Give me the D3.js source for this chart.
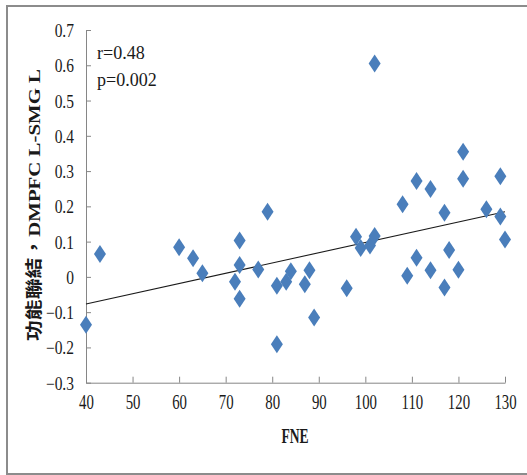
<!DOCTYPE html>
<html>
<head>
<meta charset="utf-8">
<script src="https://cdn.jsdelivr.net/npm/d3@7"></script>
<style>
  html, body { margin: 0; padding: 0; background: #fff; }
  svg { display: block; }
</style>
</head>
<body>
<svg id="chart" width="527" height="475"></svg>
<script>
// FNE score of each participant
const fne = [40, 43, 60, 63, 65, 72, 73, 73, 73, 77,
             79, 81, 81, 83, 84, 87, 88, 89, 96, 98,
             99, 101, 102, 102, 108, 109, 111, 111, 114, 114,
             117, 117, 118, 120, 121, 121, 126, 129, 129, 130];
// DMPFC L – SMG L functional connectivity of each participant
const connectivity = [-0.136, 0.065, 0.084, 0.053, 0.010, -0.014, 0.103, 0.034, -0.062, 0.021,
                      0.185, -0.025, -0.191, -0.014, 0.016, -0.021, 0.019, -0.115, -0.032, 0.114,
                      0.082, 0.089, 0.116, 0.605, 0.206, 0.003, 0.054, 0.272, 0.249, 0.019,
                      0.182, -0.030, 0.076, 0.020, 0.355, 0.278, 0.192, 0.285, 0.171, 0.106];
const xTicks = [40, 50, 60, 70, 80, 90, 100, 110, 120, 130];
const yTicks = [-0.3, -0.2, -0.1, 0, 0.1, 0.2, 0.3, 0.4, 0.5, 0.6, 0.7];
// linear fit: connectivity = slope * FNE + intercept
const fitSlope = 0.00291;
const fitIntercept = -0.1934;
const statLines = ["r=0.48", "p=0.002"];

const svg = d3.select("#chart");
const axisColor = "#868686";
const tickFont = "'Liberation Serif', 'Times New Roman', serif";

// outer frame
svg.append("rect")
  .attr("x", 7).attr("y", 6)
  .attr("width", 540).attr("height", 468)
  .attr("fill", "none")
  .attr("stroke", "#8c8c8c")
  .attr("stroke-width", 2);

const plot = { left: 86, right: 505, top: 30, bottom: 382.7 };
const x = d3.scaleLinear().domain([40, 130]).range([plot.left, plot.right]);
const y = d3.scaleLinear().domain([-0.3, 0.7]).range([plot.bottom, plot.top]);

// y axis
const yAxis = svg.append("g")
  .attr("transform", `translate(${plot.left},0)`)
  .call(d3.axisLeft(y).tickValues(yTicks)
    .tickFormat(d => d3.format("")(+d.toFixed(1)))
    .tickSizeInner(-5).tickSizeOuter(0).tickPadding(14));
yAxis.select(".domain").attr("stroke", axisColor);
yAxis.selectAll(".tick line").attr("stroke", axisColor);
yAxis.selectAll(".tick text")
  .attr("fill", "#1a1a1a")
  .attr("font-family", tickFont)
  .attr("font-size", 18)
  .attr("dy", "0.36em")
  .attr("transform", "scale(0.86,1)");

// x axis
const xAxis = svg.append("g")
  .attr("transform", `translate(0,${plot.bottom})`)
  .call(d3.axisBottom(x).tickValues(xTicks)
    .tickSizeInner(-6).tickSizeOuter(0).tickPadding(12));
xAxis.select(".domain").attr("stroke", axisColor);
xAxis.selectAll(".tick line").attr("stroke", axisColor);
xAxis.selectAll(".tick text")
  .attr("fill", "#1a1a1a")
  .attr("font-family", tickFont)
  .attr("font-size", 20)
  .attr("transform", "scale(0.74,1)");

// trend line
svg.append("line")
  .attr("x1", x(40)).attr("y1", y(fitSlope * 40 + fitIntercept))
  .attr("x2", x(130)).attr("y2", y(fitSlope * 130 + fitIntercept))
  .attr("stroke", "#1a1a1a")
  .attr("stroke-width", 1.1);

// diamond markers
const diamond = "M0,-9L6,0L0,9L-6,0Z";
svg.append("g").selectAll("path")
  .data(fne.map((v, i) => [v, connectivity[i]]))
  .join("path")
  .attr("d", diamond)
  .attr("transform", d => `translate(${x(d[0])},${y(d[1])})`)
  .attr("fill", "#4a7ebb");

// correlation statistics
svg.append("g").selectAll("text")
  .data(statLines)
  .join("text")
  .attr("x", 97)
  .attr("y", (d, i) => 59 + i * 27.5)
  .attr("font-family", tickFont)
  .attr("font-size", 19)
  .attr("fill", "#1a1a1a")
  .attr("transform", "translate(97,0) scale(0.95,1) translate(-97,0)")
  .text(d => d);

// axis titles
svg.append("text")
  .attr("x", 295).attr("y", 443)
  .attr("text-anchor", "middle")
  .attr("font-family", tickFont)
  .attr("font-weight", "bold")
  .attr("font-size", 20)
  .attr("fill", "#1a1a1a")
  .attr("transform", "translate(295,0) scale(0.68,1) translate(-295,0)")
  .text("FNE");

svg.append("text")
  .attr("transform", "translate(40,205) rotate(-90)")
  .attr("text-anchor", "middle")
  .attr("font-family", "'Liberation Serif', 'Noto Sans CJK TC', serif")
  .attr("font-weight", "bold")
  .attr("font-size", 17)
  .attr("fill", "#1a1a1a")
  .attr("textLength", 272)
  .attr("lengthAdjust", "spacingAndGlyphs")
  .text("功能聯結，DMPFC L-SMG L");
</script>
</body>
</html>
